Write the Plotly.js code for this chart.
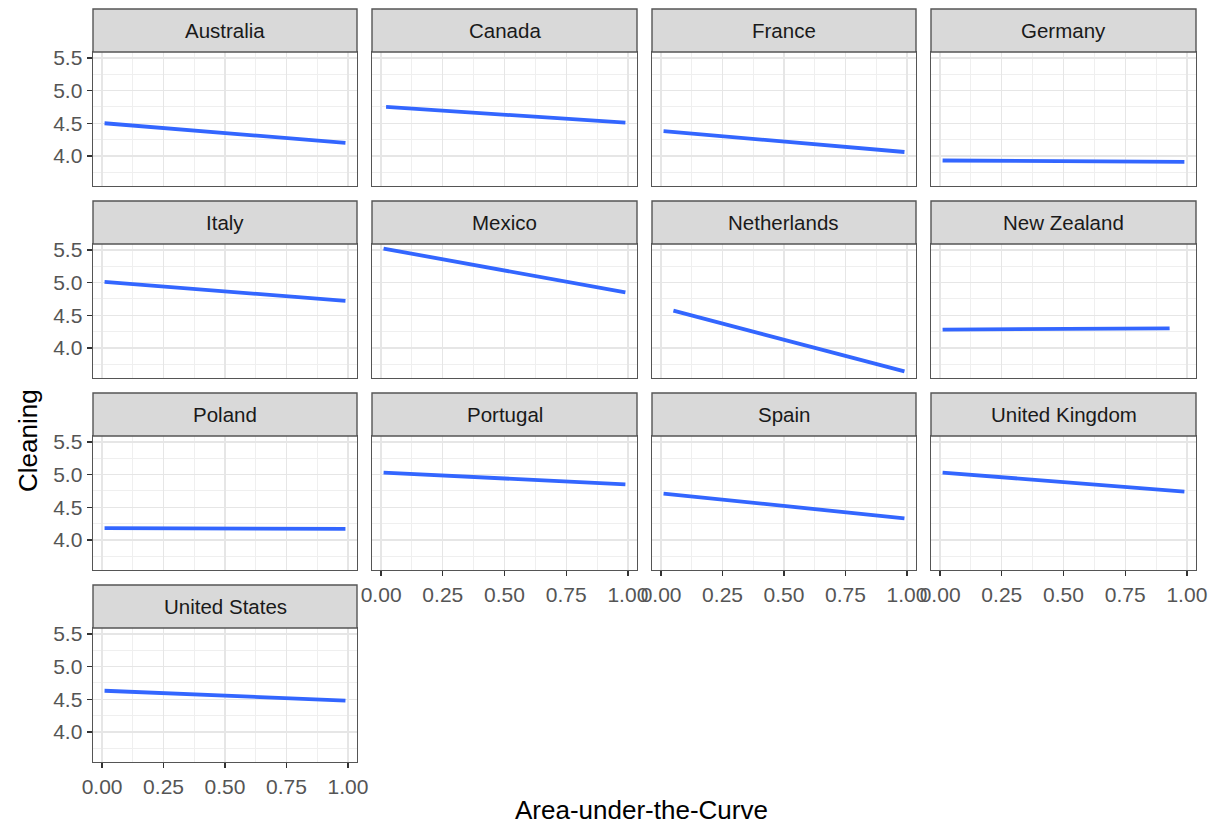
<!DOCTYPE html>
<html>
<head>
<meta charset="utf-8">
<script src="https://cdn.plot.ly/plotly-3.0.1.min.js"></script>
<style>
html,body{margin:0;padding:0;background:#fff;}
#chart{width:1212px;height:825px;}
</style>
</head>
<body>
<div id="chart"></div>
<script>
// ---- data ----
const countries = ["Australia","Canada","France","Germany","Italy","Mexico","Netherlands","New Zealand","Poland","Portugal","Spain","United Kingdom","United States"];
const xStart = [0.01,0.02,0.01,0.01,0.01,0.01,0.05,0.01,0.01,0.01,0.01,0.01,0.01];
const xEnd   = [0.99,0.99,0.99,0.99,0.99,0.99,0.99,0.93,0.99,0.99,0.99,0.99,0.99];
const yStart = [4.50,4.75,4.38,3.93,5.01,5.52,4.57,4.28,4.18,5.03,4.71,5.03,4.63];
const yEnd   = [4.20,4.51,4.06,3.91,4.72,4.85,3.64,4.30,4.17,4.85,4.33,4.74,4.48];
const xTickVals = [0, 0.25, 0.5, 0.75, 1];
const xTickText = ["0.00","0.25","0.50","0.75","1.00"];
const yTickVals = [4.0, 4.5, 5.0, 5.5];
const yTickText = ["4.0","4.5","5.0","5.5"];
const xTitle = "Area-under-the-Curve";
const yTitle = "Cleaning";

// ---- layout geometry (pixels) ----
const W = 1212, H = 825;
const colL = [93, 372, 652, 931];
const colR = [357, 637, 916, 1196];
const stripTop = [9, 201, 393, 585];
const plotTop = [52, 244, 436, 628];
const plotBot = [186, 378, 570, 762];
const FONT = "Liberation Sans, Arial, Helvetica, sans-serif";

const traces = [];
const layout = {
  width: W, height: H,
  margin: {l:0, r:0, t:0, b:0},
  paper_bgcolor: "#ffffff",
  plot_bgcolor: "#ffffff",
  showlegend: false,
  shapes: [],
  annotations: []
};

const nCols = 4;
countries.forEach((c, i) => {
  const row = Math.floor(i / nCols), col = i % nCols;
  const k = i + 1;
  const xa = "xaxis" + (k === 1 ? "" : k), ya = "yaxis" + (k === 1 ? "" : k);
  const xr = "x" + (k === 1 ? "" : k), yr = "y" + (k === 1 ? "" : k);
  const below = i + nCols;
  const showX = below >= countries.length;
  const showY = col === 0;

  traces.push({
    type: "scatter", mode: "lines",
    x: [xStart[i], xEnd[i]], y: [yStart[i], yEnd[i]],
    xaxis: xr, yaxis: yr,
    line: {color: "#3366FF", width: 3.8},
    hoverinfo: "skip"
  });

  layout[xa] = {
    domain: [colL[col] / W, colR[col] / W],
    anchor: yr,
    range: [-0.037, 1.037],
    tickvals: xTickVals, ticktext: xTickText,
    showticklabels: showX,
    ticks: showX ? "outside" : "",
    ticklen: 5, tickcolor: "#333333", tickwidth: 1.3,
    tickfont: {family: FONT, size: 21, color: "#555555"},
    showgrid: true, gridcolor: "#e6e6e6", gridwidth: 1.3,
    minor: {tickvals: [0.125, 0.375, 0.625, 0.875], showgrid: true, gridcolor: "#efefef", gridwidth: 1, ticks: ""},
    zeroline: false,
    showline: true, mirror: true, linecolor: "#555555", linewidth: 1.4,
    fixedrange: true
  };
  layout[ya] = {
    domain: [1 - plotBot[row] / H, 1 - plotTop[row] / H],
    anchor: xr,
    range: [3.54, 5.59],
    tickvals: yTickVals, ticktext: yTickText,
    showticklabels: showY,
    ticks: showY ? "outside" : "",
    ticklen: 5, tickcolor: "#333333", tickwidth: 1.3,
    tickfont: {family: FONT, size: 21, color: "#555555"},
    showgrid: true, gridcolor: "#e6e6e6", gridwidth: 1.3,
    minor: {tickvals: [3.75, 4.25, 4.75, 5.25], showgrid: true, gridcolor: "#efefef", gridwidth: 1, ticks: ""},
    zeroline: false,
    showline: true, mirror: true, linecolor: "#555555", linewidth: 1.4,
    fixedrange: true
  };

  layout.shapes.push({
    type: "rect", xref: "paper", yref: "paper",
    x0: colL[col] / W, x1: colR[col] / W,
    y0: 1 - plotTop[row] / H, y1: 1 - stripTop[row] / H,
    fillcolor: "#d9d9d9",
    line: {color: "#555555", width: 1.4},
    layer: "above"
  });
  layout.annotations.push({
    xref: "paper", yref: "paper",
    x: (colL[col] + colR[col]) / 2 / W,
    y: 1 - (stripTop[row] + plotTop[row]) / 2 / H,
    xanchor: "center", yanchor: "middle",
    text: c, showarrow: false,
    font: {family: FONT, size: 20.5, color: "#1a1a1a"}
  });
});

layout.annotations.push({
  xref: "paper", yref: "paper",
  x: 641 / W, y: 1 - 810 / H,
  xanchor: "center", yanchor: "middle",
  text: xTitle, showarrow: false,
  font: {family: FONT, size: 26, color: "#000000"}
});
layout.annotations.push({
  xref: "paper", yref: "paper",
  x: 28 / W, y: 1 - 441 / H,
  xanchor: "center", yanchor: "middle",
  text: yTitle, showarrow: false, textangle: -90,
  font: {family: FONT, size: 26, color: "#000000"}
});

Plotly.newPlot("chart", traces, layout, {displayModeBar: false, staticPlot: true});
</script>
</body>
</html>
